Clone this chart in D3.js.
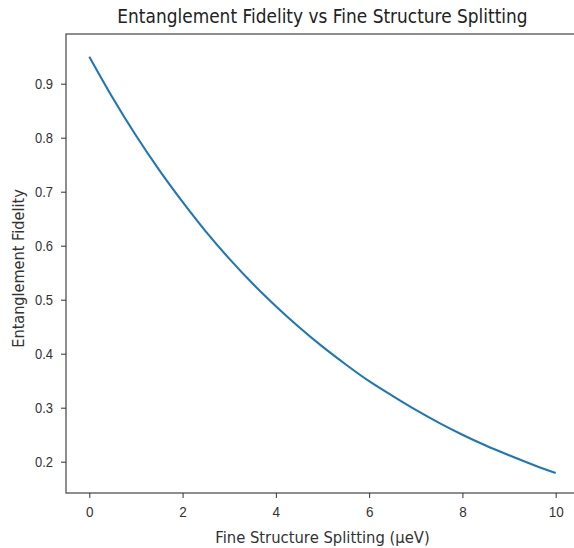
<!DOCTYPE html>
<html>
<head>
<meta charset="utf-8">
<script src="https://cdn.jsdelivr.net/npm/d3@7"></script>
<style>
  body { margin: 0; background: #fff; }
  svg { display: block; font-family: "DejaVu Sans", sans-serif; }
  .tick text { fill: #333; }
</style>
</head>
<body>
<svg width="574" height="548"></svg>
<script>
// values
var splitting = [0, 0.5, 1, 1.5, 2, 2.5, 3, 3.5, 4, 4.5, 5, 5.5, 6, 6.5, 7, 7.5, 8, 8.5, 9, 9.5, 10];
var fidelity = [0.950, 0.874, 0.804, 0.740, 0.681, 0.626, 0.576, 0.530, 0.488, 0.449, 0.413,
                0.380, 0.349, 0.322, 0.296, 0.272, 0.250, 0.230, 0.212, 0.195, 0.179];
var xTicks = [0, 2, 4, 6, 8, 10];
var yTicks = [0.2, 0.3, 0.4, 0.5, 0.6, 0.7, 0.8, 0.9];

var data = splitting.map((s, i) => ({x: s, y: fidelity[i]}));

const plotLeft = 66, plotRight = 579, plotTop = 34, plotBottom = 493;

var svg = d3.select('svg');

const xScale = d3.scaleLinear()
                .domain([-0.5, 10.5])
                .range([plotLeft, plotRight]);

const yScale = d3.scaleLinear()
                .domain([0.2, 0.9])
                .range([461.7, 83.7]);

// the picture's text looks a bit stretched vertically, so stretch around a point
function stretch(x, y, sx, sy) {
    return `translate(${x}, ${y}) scale(${sx}, ${sy}) translate(${-x}, ${-y})`;
}

// frame
svg.append('rect')
    .attr('x', plotLeft)
    .attr('y', plotTop)
    .attr('width', plotRight - plotLeft)
    .attr('height', plotBottom - plotTop)
    .attr('fill', 'none')
    .attr('stroke', '#444')
    .attr('stroke-width', 1.2);

// x-axis
let gx = svg.append('g')
    .attr('transform', `translate(0, ${plotBottom})`)
    .call(d3.axisBottom(xScale).tickValues(xTicks).tickSize(5).tickPadding(8).tickFormat(d3.format('d')));
gx.select('.domain').remove();
gx.selectAll('.tick line').attr('stroke', '#333');
gx.selectAll('.tick text')
    .attr('font-size', 13.5)
    .attr('transform', stretch(0, 13, 1, 1.15));

// y-axis
let gy = svg.append('g')
    .attr('transform', `translate(${plotLeft}, 0)`)
    .call(d3.axisLeft(yScale).tickValues(yTicks).tickSize(5).tickPadding(8).tickFormat(d3.format('.1f')));
gy.select('.domain').remove();
gy.selectAll('.tick line').attr('stroke', '#333');
gy.selectAll('.tick text')
    .attr('font-size', 13)
    .attr('transform', stretch(-13, 0, 1, 1.15));

// the curve
svg.append('path')
    .datum(data)
    .attr('fill', 'none')
    .attr('stroke', '#1f77b4')
    .attr('stroke-width', 2.1)
    .attr('d', d3.line()
        .x(d => xScale(d.x))
        .y(d => yScale(d.y))
        .curve(d3.curveMonotoneX));

// title
const midX = (plotLeft + plotRight) / 2;
svg.append('text')
    .attr('x', midX)
    .attr('y', 23.5)
    .attr('transform', stretch(midX, 23.5, 1, 1.12))
    .attr('text-anchor', 'middle')
    .attr('font-size', 17)
    .attr('fill', '#222')
    .text('Entanglement Fidelity vs Fine Structure Splitting');

// x label
svg.append('text')
    .attr('x', midX)
    .attr('y', 543)
    .attr('transform', stretch(midX, 543, 1, 1.08))
    .attr('text-anchor', 'middle')
    .attr('font-size', 14.8)
    .attr('fill', '#333')
    .text('Fine Structure Splitting (μeV)');

// y label
svg.append('text')
    .attr('transform', 'translate(23.5, 268.5) rotate(-90) scale(1, 1.08)')
    .attr('text-anchor', 'middle')
    .attr('font-size', 14.5)
    .attr('fill', '#333')
    .text('Entanglement Fidelity');
</script>
</body>
</html>
